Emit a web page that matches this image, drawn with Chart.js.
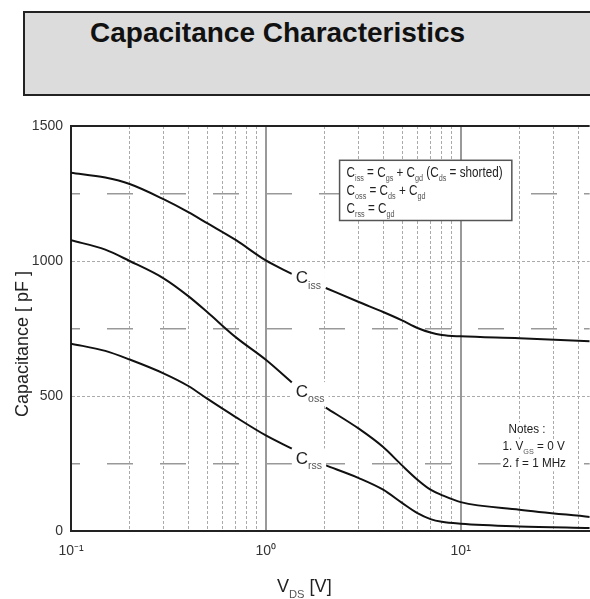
<!DOCTYPE html>
<html>
<head>
<meta charset="utf-8">
<script src="https://cdn.jsdelivr.net/npm/chart.js@4.4.0/dist/chart.umd.min.js"></script>
<style>
  html, body { margin: 0; padding: 0; background: #fff; overflow: hidden; }
  #wrap { position: relative; width: 590px; height: 599px; }
  #titleBox {
    position: absolute; left: 23px; top: 11px; width: 600px; height: 81px;
    border: 2px solid #222; background: #dcdcdc;
  }
  #titleBox h1 {
    position: absolute; left: 65px; top: 4px; margin: 0;
    font: bold 28px "Liberation Sans", Arial, sans-serif; line-height: 32px;
    color: #111; white-space: nowrap;
  }
  canvas { position: absolute; left: 0; top: 0; }
</style>
</head>
<body>
<div id="wrap">
  <canvas id="capChart" width="590" height="599"></canvas>
  <div id="titleBox"><h1>Capacitance Characteristics</h1></div>
</div>
<script>
// V_DS points (V) where the curves were read; 1.7 is the gap left for the curve labels
const vds = [0.1, 0.15, 0.2, 0.3, 0.4, 0.5, 0.7, 1.0, 1.36, 1.7, 2.03, 3, 4, 5, 6, 7, 8, 10, 20, 46];

// capacitance in pF
const ciss = [1327, 1309, 1285, 1228, 1181, 1140, 1078, 1002, 952, null, 900, 848, 811, 780, 752, 735, 726, 721, 714, 703];
const coss = [1077, 1042, 1000, 935, 870, 811, 718, 634, 550, null, 457, 379, 311, 243, 190, 153, 133, 107, 79, 52];
const crss = [694, 667, 635, 583, 537, 490, 422, 354, 305, null, 243, 196, 153, 104, 66, 44, 34, 27, 17, 11];

// axis ticks
const xTicks = [0.1, 0.2, 0.3, 0.4, 0.5, 0.6, 0.7, 0.8, 0.9, 1, 2, 3, 4, 5, 6, 7, 8, 9, 10, 20, 30, 40];
const xTickLabels = { 0.1: "10\u207B\u00B9", 1: "10\u2070", 10: "10\u00B9" };
const yLabelled = [0, 500, 1000, 1500];

const FONT = '"Liberation Sans", Arial, sans-serif';

// where the curve names sit (data coords)
const curveLabels = [
  { sub: "iss", x: 1.425, y: 917 },
  { sub: "oss", x: 1.425, y: 496 },
  { sub: "rss", x: 1.425, y: 250 },
];

function toPoints(arr) {
  return vds.map((v, i) => ({ x: v, y: arr[i] }));
}

function isDecade(v) {
  return v === 0.1 || v === 1 || v === 10;
}

function measureRich(ctx, parts, size) {
  let w = 0;
  parts.forEach(([t, sub]) => {
    ctx.font = (sub ? size * 0.62 : size) + "px " + FONT;
    w += ctx.measureText(t).width;
  });
  return w;
}

// parts: [text, isSubscript]
function drawRich(ctx, parts, x, y, size, sx) {
  ctx.save();
  ctx.translate(x, y);
  ctx.scale(sx || 1, 1);
  ctx.textBaseline = "alphabetic";
  ctx.textAlign = "left";
  let cx = 0;
  parts.forEach(([t, sub]) => {
    ctx.font = (sub ? size * 0.62 : size) + "px " + FONT;
    ctx.fillStyle = sub ? "#555" : "#222";
    ctx.fillText(t, cx, sub ? size * 0.3 : 0);
    cx += ctx.measureText(t).width;
  });
  ctx.restore();
}

const annotations = {
  id: "annotations",
  afterDatasetsDraw(chart) {
    const { ctx, scales } = chart;
    const xs = scales.x, ys = scales.y;

    // curve names with a white patch behind them
    curveLabels.forEach((l) => {
      const px = xs.getPixelForValue(l.x);
      const py = ys.getPixelForValue(l.y);
      const parts = [["C", 0], [l.sub, 1]];
      const w = measureRich(ctx, parts, 17);
      ctx.fillStyle = "#fff";
      ctx.fillRect(px - 4, py - 15, w + 8, 22);
      drawRich(ctx, parts, px, py, 17);
    });

    // definitions box
    const bx1 = xs.getPixelForValue(2.39), bx2 = xs.getPixelForValue(18.3);
    const by1 = ys.getPixelForValue(1373), by2 = ys.getPixelForValue(1150);
    ctx.save();
    ctx.fillStyle = "#fff";
    ctx.fillRect(bx1, by1, bx2 - bx1, by2 - by1);
    ctx.strokeStyle = "#555";
    ctx.lineWidth = 1.5;
    ctx.strokeRect(bx1, by1, bx2 - bx1, by2 - by1);
    ctx.restore();
    const line1 = [["C", 0], ["iss", 1], [" = C", 0], ["gs", 1], [" + C", 0], ["gd", 1], [" (C", 0], ["ds", 1], [" = shorted)", 0]];
    const line2 = [["C", 0], ["oss", 1], [" = C", 0], ["ds", 1], [" + C", 0], ["gd", 1]];
    const line3 = [["C", 0], ["rss", 1], [" = C", 0], ["gd", 1]];
    const sx = 156 / measureRich(ctx, line1, 14);
    drawRich(ctx, line1, bx1 + 7, by1 + 16.5, 14, sx);
    drawRich(ctx, line2, bx1 + 7, by1 + 34.5, 14, sx);
    drawRich(ctx, line3, bx1 + 7, by1 + 52.5, 14, sx);

    // notes
    const notes = [
      { parts: [["Notes :", 0]], x: 17.6, y: 362 },
      { parts: [["1. V", 0], ["GS", 1], [" = 0 V", 0]], x: 16.4, y: 299 },
      { parts: [["2. f = 1 MHz", 0]], x: 16.4, y: 236 },
    ];
    notes.forEach((n) => {
      const px = xs.getPixelForValue(n.x);
      const py = ys.getPixelForValue(n.y);
      const w = measureRich(ctx, n.parts, 13) * 0.9;
      ctx.fillStyle = "#fff";
      ctx.fillRect(px - 2, py - 11, w + 4, 15);
      drawRich(ctx, n.parts, px, py, 13, 0.9);
    });

    // axis titles
    ctx.save();
    ctx.translate(22, 344);
    ctx.rotate(-Math.PI / 2);
    const yt = [["Capacitance [ pF ]", 0]];
    const ysx = 146 / measureRich(ctx, yt, 18);
    drawRich(ctx, yt, -73, 6, 18, ysx);
    ctx.restore();
    drawRich(ctx, [["V", 0], ["DS", 1], [" [V]", 0]], 277, 592, 19, 0.95);
  },
};

new Chart(document.getElementById("capChart"), {
  type: "line",
  data: {
    datasets: [
      { label: "Ciss", data: toPoints(ciss) },
      { label: "Coss", data: toPoints(coss) },
      { label: "Crss", data: toPoints(crss) },
    ],
  },
  options: {
    responsive: false,
    animation: false,
    layout: { padding: { top: 126, right: 0, left: 0, bottom: 0 } },
    elements: {
      line: { borderColor: "#111", borderWidth: 2, cubicInterpolationMode: "monotone" },
      point: { radius: 0 },
    },
    plugins: {
      legend: { display: false },
      tooltip: { enabled: false },
    },
    scales: {
      x: {
        type: "logarithmic",
        min: 0.1,
        max: 45.9,
        afterBuildTicks: (scale) => {
          scale.ticks = xTicks.map((v) => ({ value: v }));
        },
        afterFit: (scale) => {
          scale.height = 68;
        },
        ticks: {
          autoSkip: false,
          maxRotation: 0,
          padding: 12,
          color: "#333",
          font: { family: FONT, size: 14 },
          callback: (v) => xTickLabels[v] || "",
        },
        grid: {
          drawTicks: false,
          color: (c) => {
            const v = c.tick && c.tick.value;
            if (v === 0.1) return "rgba(0,0,0,0)";
            return isDecade(v) ? "#999" : "#aaa";
          },
          lineWidth: (c) => (c.tick && isDecade(c.tick.value) ? 2 : 1),
        },
        border: {
          color: "#222",
          width: 2,
          dash: (c) => (c.tick && isDecade(c.tick.value) ? [] : [3, 2]),
        },
      },
      y: {
        min: 0,
        max: 1500,
        afterBuildTicks: (scale) => {
          scale.ticks = [0, 250, 500, 750, 1000, 1250, 1500].map((v) => ({ value: v }));
        },
        afterFit: (scale) => {
          scale.width = 71;
        },
        ticks: {
          padding: 8,
          color: "#333",
          font: { family: FONT, size: 14 },
          callback: (v) => (yLabelled.includes(v) ? v : ""),
        },
        grid: {
          drawTicks: false,
          color: (c) => {
            const v = c.tick && c.tick.value;
            if (v === 0) return "rgba(0,0,0,0)";
            if (v === 1500) return "#222";
            return v % 500 === 0 ? "#aaa" : "#999";
          },
          lineWidth: (c) => {
            const v = c.tick && c.tick.value;
            if (v === 1500) return 2;
            return v % 500 === 0 ? 1 : 1.5;
          },
        },
        border: {
          color: "#222",
          width: 2,
          dash: (c) => {
            const v = c.tick && c.tick.value;
            if (v === undefined || v === 1500) return [];
            return v % 500 === 0 ? [3, 2] : [26, 27];
          },
          dashOffset: (c) => (c.tick && c.tick.value % 500 !== 0 ? 18 : 0),
        },
      },
    },
  },
  plugins: [annotations],
});
</script>
</body>
</html>
